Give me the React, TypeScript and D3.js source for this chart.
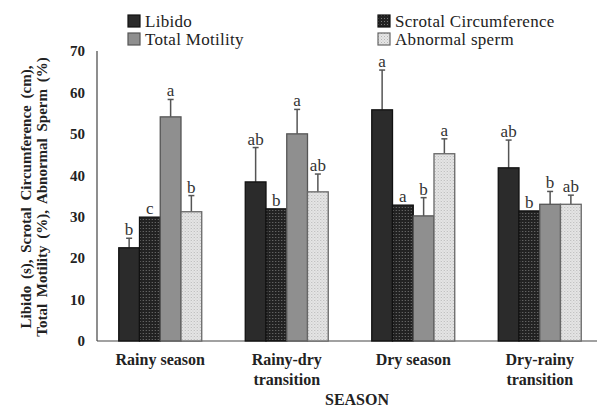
import React from "react";
import * as d3 from "d3";

const seasons = ["Rainy season", "Rainy-dry transition", "Dry season", "Dry-rainy transition"];
const seasonLines = [["Rainy season"], ["Rainy-dry", "transition"], ["Dry season"], ["Dry-rainy", "transition"]];
const seriesNames = ["Libido", "Scrotal Circumference", "Total Motility", "Abnormal sperm"];
const libido = [22.5, 38.4, 55.8, 41.8];
const scrotal = [29.9, 31.9, 32.8, 31.4];
const motility = [54.1, 50.0, 30.2, 33.0];
const abnormal = [31.2, 36.0, 45.2, 33.0];
const libidoErr = [2.3, 8.3, 9.6, 6.7];
const scrotalErr = [0, 0, 0, 0];
const motilityErr = [4.2, 5.9, 4.4, 3.1];
const abnormalErr = [3.9, 4.3, 3.6, 2.2];
const libidoLetters = ["b", "ab", "a", "ab"];
const scrotalLetters = ["c", "b", "a", "b"];
const motilityLetters = ["a", "a", "b", "b"];
const abnormalLetters = ["b", "ab", "a", "ab"];
const yTicks = [0, 10, 20, 30, 40, 50, 60, 70];

const values = [libido, scrotal, motility, abnormal];
const errors = [libidoErr, scrotalErr, motilityErr, abnormalErr];
const letters = [libidoLetters, scrotalLetters, motilityLetters, abnormalLetters];
const fills = ["#2b2b2b", "url(#patScrotal)", "#8f8f8f", "url(#patAbn)"];
const strokes = ["#111", "#111", "#555", "#666"];

const serif = "'Liberation Serif', 'Times New Roman', serif";

export default function App() {
  const y = d3.scaleLinear().domain([0, 70]).range([341, 51]);
  const x = d3.scaleBand<string>().domain(seasons).range([97, 603]).paddingInner(0.344).paddingOuter(0.172);
  const xs = d3.scaleBand<string>().domain(seriesNames).range([0, x.bandwidth()]);

  return (
    <svg width={599} height={410} style={{ position: "absolute", left: 0, top: 0, background: "#fff" }}>
      <defs>
        <pattern id="patScrotal" width="3" height="3" patternUnits="userSpaceOnUse">
          <rect width="3" height="3" fill="#222" />
          <rect x="0" y="0" width="1" height="1" fill="#777" />
        </pattern>
        <pattern id="patAbn" width="3" height="3" patternUnits="userSpaceOnUse">
          <rect width="3" height="3" fill="#e6e6e6" />
          <rect x="0" y="0" width="1" height="1" fill="#b5b5b5" />
          <rect x="1.5" y="1.5" width="1" height="1" fill="#c5c5c5" />
        </pattern>
      </defs>

      {/* axes */}
      <line x1={97} x2={97} y1={y(70)} y2={y(0)} stroke="#444" strokeWidth={1.2} />
      <line x1={97} x2={597} y1={y(0)} y2={y(0)} stroke="#444" strokeWidth={1.2} />
      {yTicks.map((t) => (
        <text key={t} x={85} y={y(t)} dy="0.35em" textAnchor="end" fontFamily={serif} fontWeight="bold" fontSize={15} fill="#222">
          {t}
        </text>
      ))}

      {/* bars */}
      {seasons.map((s, i) => (
        <g key={s} transform={`translate(${x(s)},0)`}>
          {seriesNames.map((n, k) => {
            const v = values[k][i];
            const e = errors[k][i];
            const bx = xs(n)!;
            const bw = xs.bandwidth();
            const cx = bx + bw / 2;
            const top = y(v + e);
            return (
              <g key={n}>
                {e > 0 && (
                  <g stroke="#555" strokeWidth={1.5}>
                    <line x1={cx} x2={cx} y1={y(v)} y2={top} />
                    <line x1={cx - 3} x2={cx + 3} y1={top} y2={top} />
                  </g>
                )}
                <rect x={bx} y={y(v)} width={bw} height={y(0) - y(v)} fill={fills[k]} stroke={strokes[k]} strokeWidth={1.3} />
                <text x={cx} y={top - 3} textAnchor="middle" fontFamily={serif} fontSize={17} fill="#333">
                  {letters[k][i]}
                </text>
              </g>
            );
          })}
        </g>
      ))}

      {/* category labels */}
      {seasons.map((s, i) => (
        <text key={s} x={x(s)! + x.bandwidth() / 2} y={365} textAnchor="middle" fontFamily={serif} fontWeight="bold" fontSize={16} fill="#222">
          {seasonLines[i].map((l, j) => (
            <tspan key={j} x={x(s)! + x.bandwidth() / 2} dy={j === 0 ? 0 : 20}>
              {l}
            </tspan>
          ))}
        </text>
      ))}
      <text x={357} y={405} textAnchor="middle" fontFamily={serif} fontWeight="bold" fontSize={16} fill="#222">
        SEASON
      </text>

      {/* y title */}
      <g transform="translate(0,197) rotate(-90)" fontFamily={serif} fontWeight="bold" fontSize={15} fill="#222" style={{ wordSpacing: "3px" }}>
        <text x={0} y={31} textAnchor="middle">Libido (s), Scrotal Circumference (cm),</text>
        <text x={0} y={47} textAnchor="middle">Total Motility (%), Abnormal Sperm (%)</text>
      </g>

      {/* legend */}
      {seriesNames.map((n, k) => {
        const col = k % 2 === 0 ? 128 : 378;
        const row = k < 2 ? 14 : 32;
        return (
          <g key={n}>
            <rect x={col} y={row + 1} width={12} height={12} fill={fills[k]} stroke={strokes[k]} strokeWidth={1.2} />
            <text x={col + 17} y={row + 13} fontFamily={serif} fontSize={17} fill="#222" style={{ letterSpacing: "0.3px" }}>
              {n}
            </text>
          </g>
        );
      })}
    </svg>
  );
}
